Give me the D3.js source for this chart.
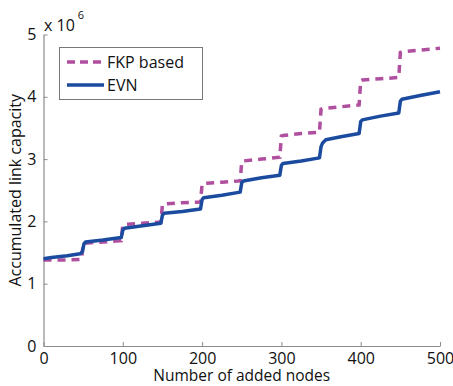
<!DOCTYPE html>
<html>
<head>
<meta charset="utf-8">
<script src="https://cdn.jsdelivr.net/npm/d3@7"></script>
<style>
  html, body { margin: 0; padding: 0; background: #fff; }
  svg { display: block; font-family: "Open Sans", "Noto Sans", sans-serif; }
</style>
</head>
<body>
<svg id="chart" width="453" height="386"></svg>
<script>
// Accumulated link capacity (in units of 10^6) versus number of added nodes
const seriesNames = ["FKP based", "EVN"];

const fkpNodes  = [0, 25, 48, 50, 52, 75, 98, 100, 102, 125, 148, 150, 152, 175, 198, 200, 202, 225, 248,
                   250, 252, 275, 298, 300, 302, 325, 348, 350, 352, 375, 398, 400, 402, 425, 448, 450, 452, 475, 500];
const fkpValues = [1.38, 1.38, 1.39, 1.64, 1.65, 1.67, 1.69, 1.94, 1.95, 1.97, 1.99, 2.27, 2.28, 2.30, 2.31,
                   2.60, 2.61, 2.63, 2.65, 2.96, 2.97, 3.00, 3.03, 3.37, 3.38, 3.41, 3.43, 3.80, 3.81, 3.84, 3.87,
                   4.26, 4.27, 4.29, 4.31, 4.71, 4.72, 4.75, 4.78];

const evnNodes  = [0, 10, 30, 46, 49, 51, 53, 75, 98, 100, 102, 125, 148, 150, 152, 175, 198, 200, 202, 225,
                   248, 250, 252, 275, 298, 300, 302, 325, 348, 350, 352, 356, 375, 398, 400, 402, 425, 448,
                   450, 452, 475, 500];
const evnValues = [1.40, 1.42, 1.45, 1.48, 1.51, 1.64, 1.67, 1.70, 1.74, 1.86, 1.89, 1.93, 1.97, 2.10, 2.13,
                   2.16, 2.20, 2.35, 2.38, 2.42, 2.47, 2.62, 2.65, 2.70, 2.74, 2.90, 2.93, 2.97, 3.02, 3.20,
                   3.26, 3.31, 3.36, 3.41, 3.60, 3.63, 3.69, 3.74, 3.93, 3.96, 4.02, 4.08];

const xTicks = [0, 100, 200, 300, 400, 500];
const yTicks = [0, 1, 2, 3, 4, 5];
const xLabel = "Number of added nodes";
const yLabel = "Accumulated link capacity";

const colors = { fkp: "#b04f9f", evn: "#1b4b9f" };

const svg = d3.select("#chart");
const margin = { left: 43.5, right: 13, top: 34.5, bottom: 40 };
const W = 453, H = 386;

const x = d3.scaleLinear().domain([0, 500]).range([margin.left, W - margin.right]);
const y = d3.scaleLinear().domain([0, 5]).range([H - margin.bottom, margin.top]);

// axes with inward ticks
const axisColor = "#8c8c8c";
const gx = svg.append("g")
  .attr("transform", `translate(0,${y(0)})`)
  .call(d3.axisBottom(x).tickValues(xTicks).tickFormat(d3.format("d"))
    .tickSizeInner(-4).tickSizeOuter(0).tickPadding(8));
const gy = svg.append("g")
  .attr("transform", `translate(${x(0)},0)`)
  .call(d3.axisLeft(y).tickValues(yTicks).tickFormat(d3.format("d"))
    .tickSizeInner(-4).tickSizeOuter(0).tickPadding(7));

[gx, gy].forEach(g => {
  g.select(".domain").attr("stroke", axisColor).attr("stroke-width", 1.2);
  g.selectAll(".tick line").attr("stroke", axisColor).attr("stroke-width", 1);
  g.selectAll(".tick text").attr("fill", "#111").attr("font-size", 16)
    .attr("font-family", "'Open Sans', sans-serif");
});
gx.selectAll(".tick text").attr("dy", "0.62em");

// exponent label
const expo = svg.append("text").attr("x", 44).attr("y", 31)
  .attr("font-size", 16).attr("fill", "#111");
expo.append("tspan").text("x 10");
expo.append("tspan").attr("font-size", 11).attr("dy", -12).attr("dx", 3).text("6");

// axis titles
svg.append("text")
  .attr("x", (x(0) + x(500)) / 2).attr("y", 380.5)
  .attr("text-anchor", "middle").attr("font-size", 15.5).attr("fill", "#111")
  .text(xLabel);
svg.append("text")
  .attr("transform", `translate(21,${(y(0) + y(5)) / 2}) rotate(-90)`)
  .attr("text-anchor", "middle").attr("font-size", 16).attr("fill", "#111")
  .text(yLabel);

// lines
const line = d3.line().x(d => x(d[0])).y(d => y(d[1]));
const fkpData = d3.zip(fkpNodes, fkpValues);
const evnData = d3.zip(evnNodes, evnValues);

svg.append("path").datum(fkpData)
  .attr("d", line).attr("fill", "none")
  .attr("stroke", colors.fkp).attr("stroke-width", 3.5)
  .attr("stroke-dasharray", "8,6");
svg.append("path").datum(evnData)
  .attr("d", line).attr("fill", "none")
  .attr("stroke", colors.evn).attr("stroke-width", 3.5)
  .attr("stroke-linejoin", "round");

// legend
const lg = svg.append("g");
lg.append("rect").attr("x", 59.5).attr("y", 47.5).attr("width", 143).attr("height", 52)
  .attr("fill", "#fff").attr("stroke", "#777").attr("stroke-width", 1);
const items = [
  { name: seriesNames[0], color: colors.fkp, dash: "8,5", cy: 62 },
  { name: seriesNames[1], color: colors.evn, dash: null, cy: 85 }
];
items.forEach(it => {
  lg.append("line").attr("x1", 67).attr("x2", 104).attr("y1", it.cy).attr("y2", it.cy)
    .attr("stroke", it.color).attr("stroke-width", 3.5)
    .attr("stroke-dasharray", it.dash);
  lg.append("text").attr("x", 107).attr("y", it.cy + 6)
    .attr("font-size", 16).attr("fill", "#111").text(it.name);
});
</script>
</body>
</html>
